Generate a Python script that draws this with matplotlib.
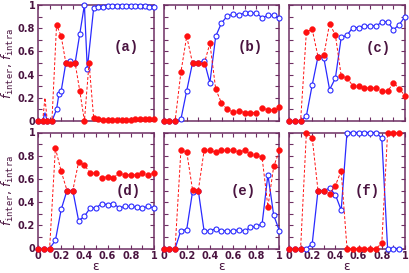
import numpy as np
import matplotlib
matplotlib.use("Agg")
import matplotlib.pyplot as plt
from matplotlib.ticker import MultipleLocator

# ---- data ----
x_a_red = [0, 0.04, 0.06, 0.08, 0.12, 0.16, 0.20, 0.24, 0.28, 0.32, 0.36, 0.40, 0.44,
           0.48, 0.52, 0.56, 0.60, 0.64, 0.68, 0.72, 0.76, 0.80, 0.84, 0.88, 0.92, 0.96, 1.0]
red_a = [0, 0, 0.20, 0, 0, 0.83, 0.73, 0.50, 0.49, 0.50, 0.26, 0, 0.50,
         0.025, 0.02, 0.01, 0.01, 0.01, 0.01, 0.01, 0.01, 0.01, 0.015, 0.015, 0.02, 0.02, 0.02]
red_a_nomark = [2]
x_a_blue = [0, 0.04, 0.06, 0.08, 0.12, 0.16, 0.18, 0.20, 0.24, 0.28, 0.32, 0.36, 0.40, 0.425,
            0.48, 0.52, 0.56, 0.60, 0.64, 0.68, 0.72, 0.76, 0.80, 0.84, 0.88, 0.92, 0.96, 1.0]
blue_a = [0, 0, 0.07, 0, 0, 0.10, 0.23, 0.26, 0.50, 0.52, 0.50, 0.75, 1.0, 0.45,
          0.975, 0.98, 0.985, 0.99, 0.99, 0.995, 0.995, 0.995, 0.995, 0.99, 0.99, 0.99, 0.985, 0.985]
blue_a_nomark = [2]

x21 = [round(0.05 * i, 2) for i in range(21)]
x20 = x21[:20]

red_b = [0, 0, 0, 0.42, 0.73, 0.50, 0.50, 0.49, 0.67, 0.275, 0.155, 0.10, 0.077, 0.089,
         0.072, 0.072, 0.072, 0.112, 0.097, 0.095, 0.117]
blue_b = [0, 0, 0, 0.015, 0.26, 0.50, 0.50, 0.52, 0.33, 0.73, 0.845, 0.905, 0.92, 0.915,
          0.93, 0.93, 0.93, 0.89, 0.91, 0.91, 0.89]

red_c = [0, 0, 0, 0.77, 0.79, 0.555, 0.565, 0.84, 0.74, 0.39, 0.37, 0.305, 0.305, 0.285,
         0.285, 0.285, 0.26, 0.255, 0.33, 0.28, 0.215]
blue_c = [0, 0, 0, 0.045, 0.31, 0.555, 0.545, 0.27, 0.37, 0.72, 0.74, 0.805, 0.805, 0.82,
          0.82, 0.82, 0.85, 0.857, 0.786, 0.83, 0.90]

red_d = [0, 0, 0, 0.865, 0.665, 0.50, 0.50, 0.745, 0.72, 0.65, 0.65, 0.61, 0.62, 0.61,
         0.65, 0.635, 0.635, 0.635, 0.65, 0.635, 0.65]
blue_d = [0, 0, 0, 0.07, 0.337, 0.50, 0.50, 0.24, 0.277, 0.35, 0.35, 0.387, 0.377, 0.387,
          0.35, 0.363, 0.363, 0.357, 0.35, 0.363, 0.35]

red_e = [0, 0, 0, 0.845, 0.835, 0.507, 0.50, 0.845, 0.845, 0.83, 0.845, 0.845, 0.845,
         0.834, 0.845, 0.816, 0.81, 0.785, 0.36, 0.707, 0.845]
blue_e = [0, 0, 0, 0.155, 0.163, 0.487, 0.50, 0.15, 0.15, 0.172, 0.155, 0.15, 0.15, 0.163,
          0.15, 0.183, 0.19, 0.212, 0.636, 0.287, 0.15]

red_f = [0, 0, 0, 1.0, 0.954, 0.50, 0.50, 0.474, 0.543, 0.67, 0, 0, 0, 0, 0, 0, 0.045,
         1.0, 1.0, 1.0]
blue_f = [0, 0, 0, 0, 0.04, 0.50, 0.50, 0.52, 0.463, 0.33, 1.0, 1.0, 1.0, 1.0, 1.0, 1.0,
          0.95, 0, 0, 0]

tick_vals = [0, 0.2, 0.4, 0.6, 0.8, 1.0]
tick_labels = ["0", "0.2", "0.4", "0.6", "0.8", "1"]
panel_names = ["(a)", "(b)", "(c)", "(d)", "(e)", "(f)"]

series = [
    (x_a_red, red_a, red_a_nomark, x_a_blue, blue_a, blue_a_nomark),
    (x21, red_b, [], x21, blue_b, []),
    (x21, red_c, [], x21, blue_c, []),
    (x21, red_d, [], x21, blue_d, []),
    (x21, red_e, [], x21, blue_e, []),
    (x20, red_f, [], x20, blue_f, []),
]
# where the panel letter sits (axes fraction)
label_pos = [(0.76, 0.64), (0.75, 0.64), (0.77, 0.63),
             (0.78, 0.50), (0.69, 0.50), (0.675, 0.50)]

frame_col = "#6e2f63"
text_col = "#4a1440"
red = "#ff1010"
blue = "#2a2aff"

W, H = 409, 273
fig = plt.figure(figsize=(W / 100, H / 100), dpi=100)

lefts = [38, 163.5, 289]
tops = [5, 132.5]
pw, ph = 116, 116

for k, (xr, yr, nr, xb, yb, nb) in enumerate(series):
    row, col = divmod(k, 3)
    ax = fig.add_axes([lefts[col] / W, 1 - (tops[row] + ph) / H, pw / W, ph / H])

    mk_b = [i for i in range(len(xb)) if i not in nb]
    mk_r = [i for i in range(len(xr)) if i not in nr]
    ax.plot(xb, yb, "-", color=blue, lw=0.9, marker="o", ms=3.6, mfc="white",
            mec=blue, mew=0.8, markevery=mk_b, clip_on=False, zorder=3)
    ax.plot(xr, yr, "--", color=red, lw=0.7, dashes=(3, 2), marker="o", ms=4.2,
            mfc=red, mec=red, mew=0.3, markevery=mk_r, clip_on=False, zorder=4)

    ax.set_xticks(tick_vals)
    ax.set_yticks(tick_vals)
    ax.xaxis.set_minor_locator(MultipleLocator(0.1))
    ax.yaxis.set_minor_locator(MultipleLocator(0.1))
    ax.set_xlim(0, 1)
    ax.set_ylim(0, 1)
    ax.tick_params(which="both", direction="in", top=True, right=True, length=3,
                   width=0.8, color=frame_col, labelsize=7, labelcolor=text_col, pad=2)
    for s in ax.spines.values():
        s.set_color(frame_col)
        s.set_linewidth(1.1)

    if row == 0:
        ax.set_xticklabels([])
    else:
        ax.set_xticklabels(tick_labels, fontweight="bold")
        ax.set_xlabel("ε", fontsize=9, color=text_col, labelpad=-1)
    if col == 0:
        ax.set_yticklabels(tick_labels, fontweight="bold")
        ax.set_ylabel(r"$f_{\mathtt{inter}}$, $f_{\mathtt{intra}}$", fontsize=9,
                      color=text_col, labelpad=1)
    else:
        ax.set_yticklabels([])

    lx, ly = label_pos[k]
    ax.text(lx, ly, panel_names[k], transform=ax.transAxes, ha="center", va="center",
            fontsize=10, fontweight="bold", family="Liberation Mono", color=text_col)

fig.savefig("out.png", dpi=100)
